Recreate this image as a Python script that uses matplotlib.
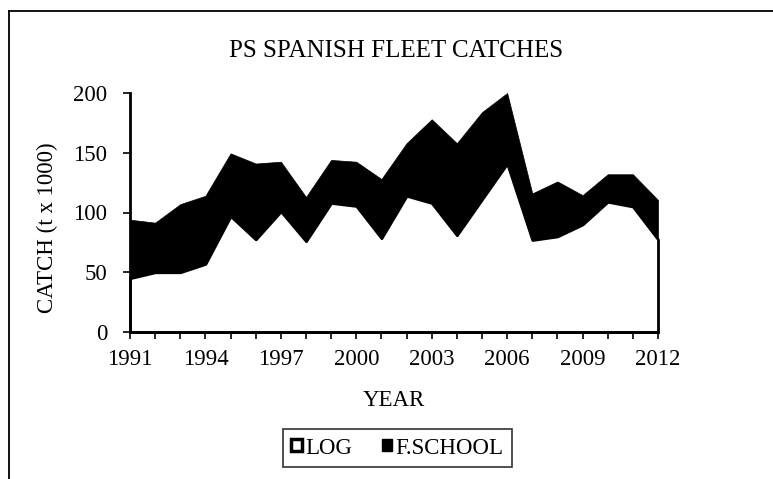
import matplotlib
matplotlib.use("Agg")
import matplotlib.pyplot as plt
from matplotlib.patches import Patch
from matplotlib.lines import Line2D

plt.rcParams['font.family'] = ['Liberation Serif', 'DejaVu Serif']

years = list(range(1991, 2013))
log = [45, 50, 50, 57, 97, 77.5, 101, 76, 108, 105.5, 78.5, 114, 108, 81, 111, 141,
       77, 80, 90, 109, 105, 77.5]
total = [94, 91.5, 107, 114, 149.5, 141, 142.5, 113, 144, 142.5, 128, 158, 178, 158, 184, 200,
         116, 126, 114.5, 132, 132, 110.5]
fschool = [t - l for t, l in zip(total, log)]
xtick_labels = [str(y) if (y - 1991) % 3 == 0 else "" for y in years]
yticks = [0, 50, 100, 150, 200]

W, H = 773, 479
FS = 16.5
fig = plt.figure(figsize=(W / 100, H / 100), dpi=100)

# outer frame (partially off-canvas)
fig.add_artist(Line2D([9 / W, 9 / W], [0, 1 - 11 / H], color='black', lw=1.3, transform=fig.transFigure))
fig.add_artist(Line2D([9 / W, 1], [1 - 11 / H, 1 - 11 / H], color='black', lw=1.3, transform=fig.transFigure))

L, R, T, B = 130, 658, 93, 332
ax = fig.add_axes([L / W, 1 - B / H, (R - L) / W, (B - T) / H])

stack_top = [l + f for l, f in zip(log, fschool)]
ax.fill_between(years, log, stack_top, facecolor='black', edgecolor='black', lw=0.5, zorder=2)
ax.fill_between(years, 0, log, facecolor='white', edgecolor='black', lw=2, zorder=3, clip_on=False)

ax.set_xlim(1991, 2012)
ax.set_ylim(0, 200)
ax.set_xticks(years)
ax.set_xticklabels(xtick_labels, fontsize=FS)
ax.set_yticks(yticks)
ax.set_yticklabels([str(v) for v in yticks], fontsize=FS)
ax.tick_params(axis='both', direction='out', length=5, width=1.2, colors='black')
ax.tick_params(axis='y', pad=11.5)
ax.tick_params(axis='x', pad=7)
for s in ['top', 'right']:
    ax.spines[s].set_visible(False)
for s in ['left', 'bottom']:
    ax.spines[s].set_linewidth(2)
    ax.spines[s].set_zorder(4)

fig.text(396 / W, 1 - 57 / H, "PS SPANISH FLEET CATCHES", ha='center', va='baseline', fontsize=18)
fig.text(394 / W, 1 - 400 / H, "YEAR", ha='center', va='center', fontsize=FS)
fig.text(53 / W, 1 - 228 / H, "CATCH (t x 1000)", ha='center', va='baseline', rotation=90,
         rotation_mode='anchor', fontsize=FS)

handles = [Patch(facecolor='white', edgecolor='black', lw=2.5, label='LOG'),
           Patch(facecolor='black', edgecolor='black', lw=1, label='F.SCHOOL')]
leg = fig.legend(handles=handles, loc='center', bbox_to_anchor=(397.5 / W, 1 - 448 / H), ncol=2,
                 frameon=True, fancybox=False, edgecolor='black', fontsize=FS,
                 handlelength=0.45, handleheight=0.45, handletextpad=0.15, columnspacing=1.3,
                 borderpad=0.35)
leg.get_frame().set_linewidth(1.2)

fig.savefig("out.png", dpi=100)
